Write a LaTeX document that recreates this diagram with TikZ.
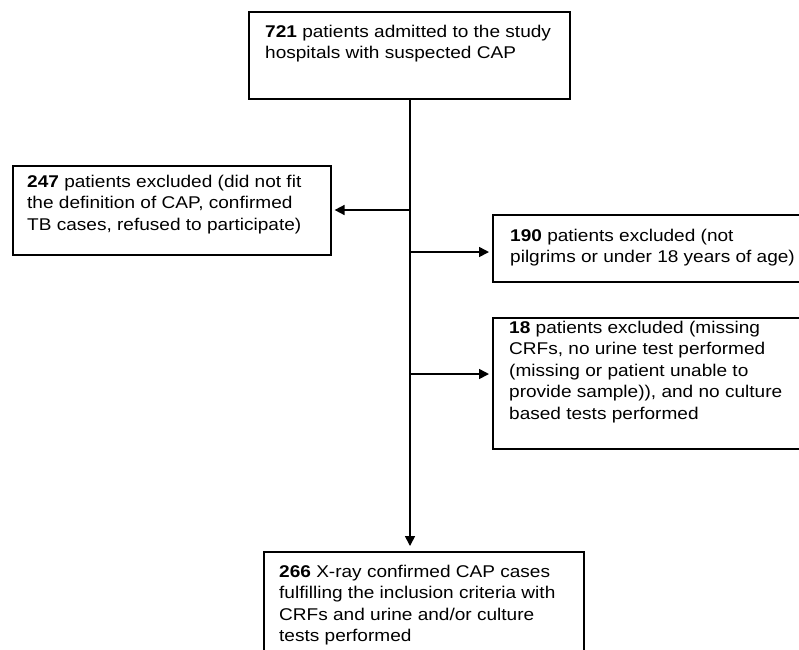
\documentclass[tikz,border=0pt]{standalone}
\usepackage{fontspec}
\setmainfont{Liberation Sans}[FakeStretch=1.12]
\usetikzlibrary{arrows.meta}
\begin{document}
\begin{tikzpicture}[x=1pt,y=-1pt,
  box/.style={draw=black, line width=1.6pt, anchor=north west, inner sep=0pt, rectangle},
  txt/.style={anchor=north west, inner sep=0pt, align=left, font=\fontsize{17}{21.5}\selectfont},
  conn/.style={line width=1.6pt, -{Triangle[length=10pt,width=10pt]}}]
\clip (0,0) rectangle (799,649);
\fill[white] (0,0) rectangle (799,649);
% boxes
\node[box, minimum width=321pt, minimum height=87pt] (top) at (248,11) {};
\node[box, minimum width=318pt, minimum height=89pt] (b247) at (12,165) {};
\node[box, minimum width=330pt, minimum height=67pt] (b190) at (492,214) {};
\node[box, minimum width=330pt, minimum height=131pt] (b18) at (492,317) {};
\node[box, minimum width=320pt, minimum height=130pt] (b266) at (263,551) {};
% texts
\node[txt] (t721) at (265,24.5) {\textbf{721} patients admitted to the study\\hospitals with suspected CAP};
\node[txt] (t247) at (27,174.5) {\textbf{247} patients excluded (did not fit\\the definition of CAP, confirmed\\TB cases, refused to participate)};
\node[txt] (t190) at (510,228.5) {\textbf{190} patients excluded (not\\pilgrims or under 18 years of age)};
\node[txt] (t18) at (509,320.5) {\textbf{18} patients excluded (missing\\CRFs, no urine test performed\\(missing or patient unable to\\provide sample)), and no culture\\based tests performed};
\node[txt] (t266) at (279,564.5) {\textbf{266} X-ray confirmed CAP cases\\fulfilling the inclusion criteria with\\CRFs and urine and/or culture\\tests performed};
% trunk
\coordinate (j1) at (410,210);
\coordinate (j2) at (410,252);
\coordinate (j3) at (410,374);
\draw[conn, shorten >=5pt] (top.south -| j1) -- (b266.north -| j1);
\draw[conn, shorten >=3pt] (j1) -- (b247.east |- j1);
\draw[conn, shorten >=3pt] (j2) -- (b190.west |- j2);
\draw[conn, shorten >=3pt] (j3) -- (b18.west |- j3);
\end{tikzpicture}
\end{document}
